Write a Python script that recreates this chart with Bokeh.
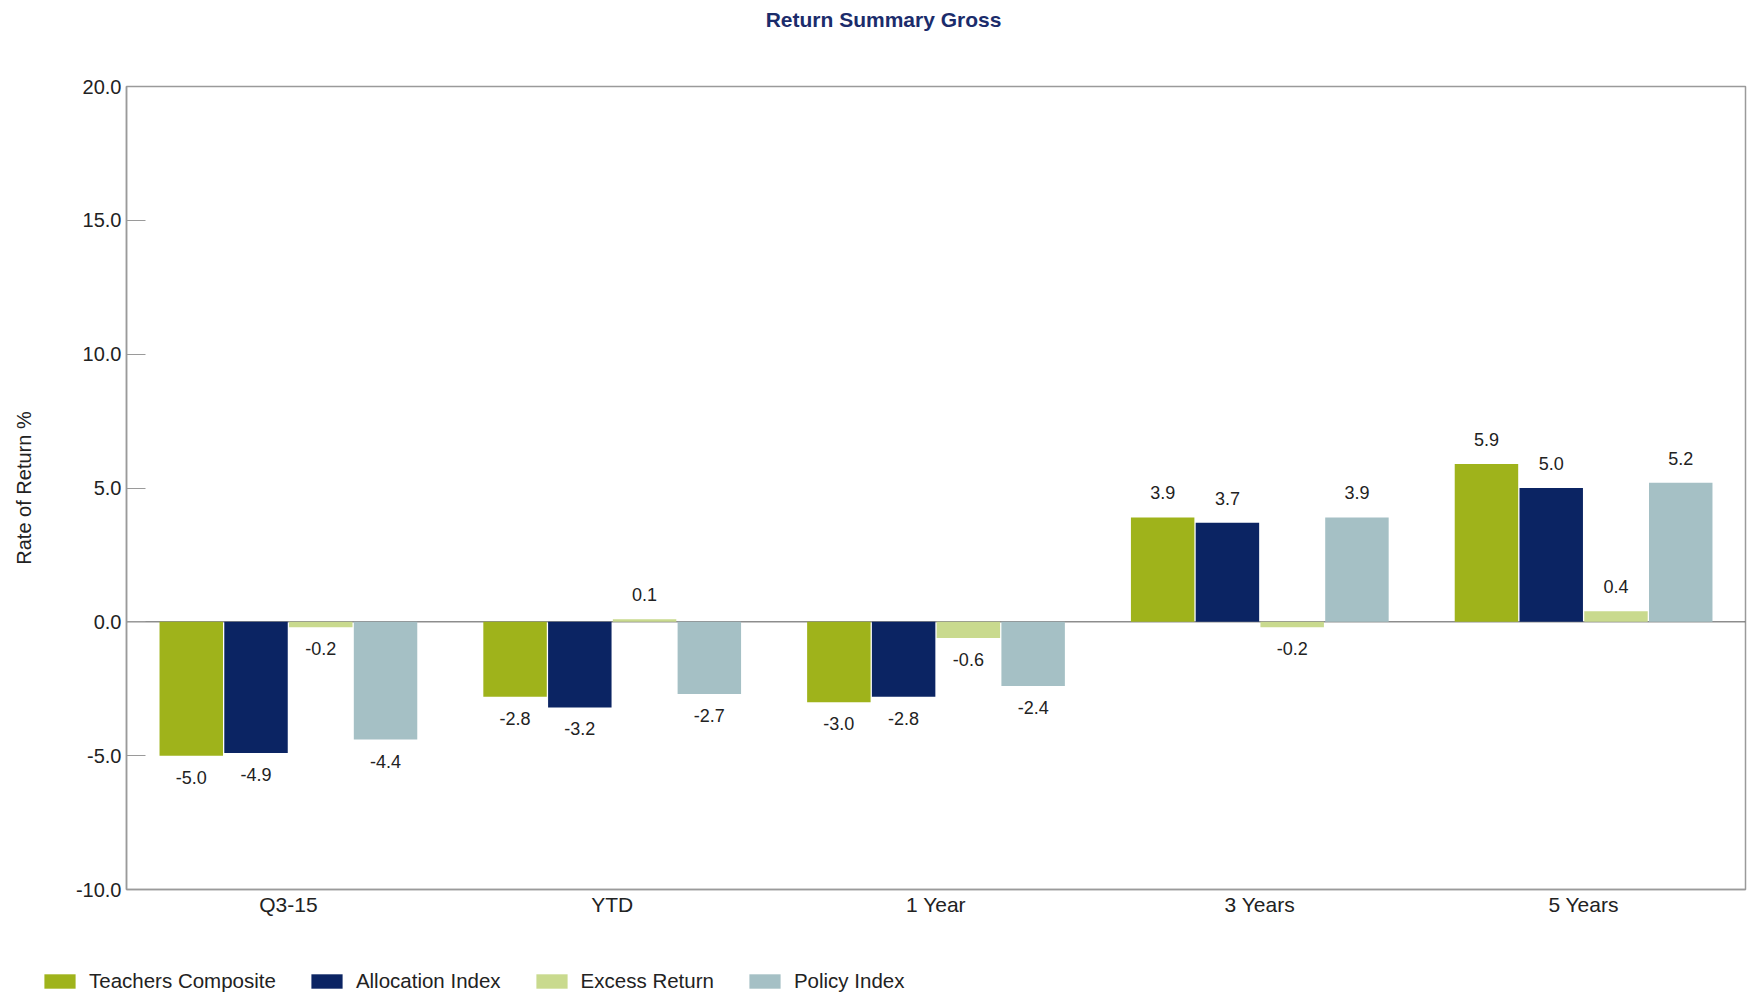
from bokeh.plotting import figure
from bokeh.layouts import column
from bokeh.models import (FactorRange, Range1d, ColumnDataSource, FixedTicker, Span,
                          Legend, LegendItem, NumeralTickFormatter)
from bokeh.transform import dodge
from bokeh.core.properties import value
from bokeh.embed import file_html
from bokeh.resources import INLINE

categories = ["Q3-15", "YTD", "1 Year", "3 Years", "5 Years"]
series_names = ["Teachers Composite", "Allocation Index", "Excess Return", "Policy Index"]
teachers_composite = [-5.0, -2.8, -3.0, 3.9, 5.9]
allocation_index = [-4.9, -3.2, -2.8, 3.7, 5.0]
excess_return = [-0.2, 0.1, -0.6, -0.2, 0.4]
policy_index = [-4.4, -2.7, -2.4, 3.9, 5.2]
y_ticks = [-10, -5, 0, 5, 10, 15, 20]
title_text = "Return Summary Gross"

series_values = [teachers_composite, allocation_index, excess_return, policy_index]
colors = ["#9FB31B", "#0B2463", "#C9DA8E", "#A5C0C5"]
offsets = [-0.3, -0.1, 0.1, 0.3]

FONT = "Liberation Sans"
TXT = "#222222"
W = 1750
FL, FR = 126, 1745   # frame left/right in page pixels

# ---- header strip with the title ----
hd = figure(width=W, height=38, output_backend="svg", toolbar_location=None,
            x_range=Range1d(0, W), y_range=Range1d(0, 1), min_border=0,
            x_axis_location=None, y_axis_location=None)
hd.frame_align = False
hd.grid.visible = False
hd.outline_line_color = None
hd.text(x=[883], y=[0.5], text=[title_text], text_align="center", text_baseline="middle",
        text_font=value(FONT), text_font_size="21px", text_font_style="bold",
        text_color="#1B2C6B")

# ---- main chart ----
p = figure(x_range=FactorRange(*categories, range_padding=0), y_range=Range1d(-10, 20),
           width=W, height=930, output_backend="svg", toolbar_location=None,
           min_border_left=FL, min_border_right=W - FR, min_border_top=48, min_border_bottom=79)
p.frame_align = False
p.background_fill_color = "white"
p.border_fill_color = "white"
p.outline_line_color = "#9a9a9a"
p.outline_line_width = 1.5
p.xgrid.visible = False
p.ygrid.visible = False

p.add_layout(Span(location=0, dimension="width", line_color="#555555", line_width=1,
                  level="underlay"))

for name, vals, col, off in zip(series_names, series_values, colors, offsets):
    src = ColumnDataSource(dict(cat=categories, val=vals))
    p.vbar(x=dodge("cat", off, range=p.x_range), top="val", bottom=0, width=0.196,
           source=src, fill_color=col, line_color=None)
    pos_src = ColumnDataSource(dict(cat=[c for c, v in zip(categories, vals) if v >= 0],
                                    val=[v for v in vals if v >= 0],
                                    lbl=[f"{v:.1f}" for v in vals if v >= 0]))
    neg_src = ColumnDataSource(dict(cat=[c for c, v in zip(categories, vals) if v < 0],
                                    val=[v for v in vals if v < 0],
                                    lbl=[f"{v:.1f}" for v in vals if v < 0]))
    p.text(x=dodge("cat", off, range=p.x_range), y="val", text="lbl", source=pos_src,
           text_align="center", text_baseline="bottom", y_offset=-18,
           text_font=value(FONT), text_font_size="18px", text_color=TXT)
    p.text(x=dodge("cat", off, range=p.x_range), y="val", text="lbl", source=neg_src,
           text_align="center", text_baseline="top", y_offset=15,
           text_font=value(FONT), text_font_size="18px", text_color=TXT)

ya = p.yaxis[0]
ya.ticker = FixedTicker(ticks=y_ticks)
ya.formatter = NumeralTickFormatter(format="0.0")
ya.axis_label = "Rate of Return %"
ya.axis_label_text_font = FONT
ya.axis_label_text_font_style = "normal"
ya.axis_label_text_font_size = "20px"
ya.axis_label_text_color = TXT
ya.axis_label_standoff = 38
ya.major_label_text_font = FONT
ya.major_label_text_font_size = "20px"
ya.major_label_text_color = TXT
ya.major_label_standoff = 5
ya.major_tick_in = 19
ya.major_tick_out = 0
ya.major_tick_line_color = "#9a9a9a"
ya.minor_tick_line_color = None
ya.axis_line_color = "#9a9a9a"
ya.axis_line_width = 1.5

xa = p.xaxis[0]
xa.major_label_text_font = FONT
xa.major_label_text_font_size = "21px"
xa.major_label_text_color = TXT
xa.major_label_standoff = -3
xa.major_tick_line_color = None
xa.minor_tick_line_color = None
xa.axis_line_color = "#9a9a9a"
xa.axis_line_width = 1.5

# ---- legend strip ----
lg = figure(width=W, height=28, output_backend="svg", toolbar_location=None,
            x_range=Range1d(0, 1), y_range=Range1d(0, 1), min_border=0,
            x_axis_location=None, y_axis_location=None)
lg.frame_align = False
lg.grid.visible = False
lg.outline_line_color = None
lg_items = []
for name, col in zip(series_names, colors):
    r = lg.vbar(x=[5], top=[5], bottom=[4], width=0.1, fill_color=col, line_color=None)
    lg_items.append(LegendItem(label=name, renderers=[r]))
legend = Legend(items=lg_items, orientation="horizontal", location=(40, 3),
                glyph_width=39, glyph_height=18, label_standoff=10, spacing=31,
                padding=0, margin=0, border_line_color=None, background_fill_alpha=0,
                label_text_font=FONT, label_text_font_size="20.5px", label_text_color=TXT,
                label_height=22)
lg.add_layout(legend, "center")

open("out.html", "w").write(file_html(column(hd, p, lg, spacing=0), INLINE))
